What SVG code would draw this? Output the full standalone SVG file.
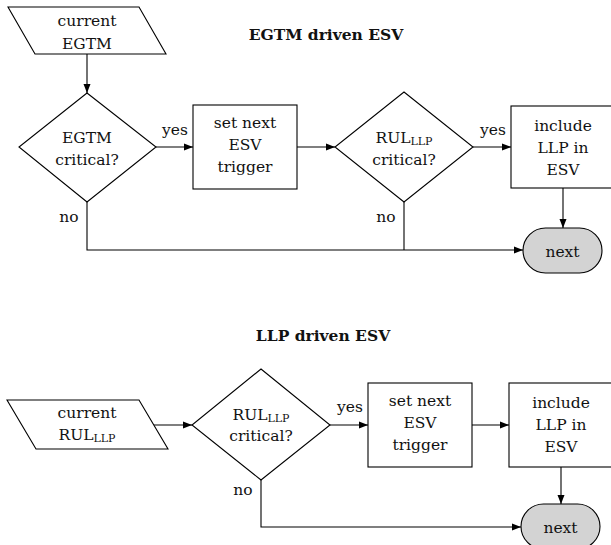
<svg xmlns="http://www.w3.org/2000/svg" width="611" height="545" viewBox="0 0 611 545">
<defs>
<marker id="ah" markerWidth="10" markerHeight="8" refX="9" refY="4" orient="auto" markerUnits="userSpaceOnUse">
<path d="M0,0.5 L9,4 L0,7.5 Z" fill="#000"/>
</marker>
<style>
.shape{fill:#fff;stroke:#000;stroke-width:1.1}
.term{fill:#d3d3d3;stroke:#000;stroke-width:1.1}
.conn{fill:none;stroke:#000;stroke-width:1.1}
.arr{marker-end:url(#ah)}
text{font-family:"DejaVu Serif","Liberation Serif",serif;font-size:15.5px;fill:#111;text-anchor:middle}
.title{font-weight:bold}
.sub{font-size:11px}
</style>
</defs>
<rect width="611" height="545" fill="#fff"/>

<text class="title" x="326" y="40">EGTM driven ESV</text>
<text class="title" x="323" y="341">LLP driven ESV</text>

<g id="connectors">
<line class="conn arr" x1="87" y1="54" x2="87" y2="93"/>
<line class="conn arr" x1="156" y1="147" x2="193" y2="147"/>
<line class="conn arr" x1="297" y1="147" x2="335" y2="147"/>
<line class="conn arr" x1="473" y1="147" x2="511" y2="147"/>
<line class="conn arr" x1="563" y1="188" x2="563" y2="228"/>
<polyline class="conn arr" points="87,202 87,250 523,250"/>
<line class="conn" x1="404" y1="202" x2="404" y2="250"/>

<line class="conn arr" x1="154" y1="425" x2="192" y2="425"/>
<line class="conn arr" x1="330" y1="425" x2="368" y2="425"/>
<line class="conn arr" x1="472" y1="425" x2="509" y2="425"/>
<line class="conn arr" x1="561" y1="467" x2="561" y2="504"/>
<polyline class="conn arr" points="261,480 261,527 521,527"/>

<text x="175" y="135">yes</text>
<text x="69" y="222">no</text>
<text x="493" y="135">yes</text>
<text x="386" y="222">no</text>
<text x="350" y="412">yes</text>
<text x="243" y="495">no</text>
</g>

<g id="current-egtm">
<polygon class="shape" points="8,7 139,7 166,54 35,54"/>
<text x="87" y="26">current</text>
<text x="87" y="49">EGTM</text>
</g>
<g id="egtm-critical">
<polygon class="shape" points="87,93 156,147 87,202 19,147"/>
<text x="87" y="143">EGTM</text>
<text x="87" y="165">critical?</text>
</g>
<g id="set-next-trigger-1">
<rect class="shape" x="193" y="105" width="104" height="84"/>
<text x="245" y="128">set next</text>
<text x="245" y="150">ESV</text>
<text x="245" y="172">trigger</text>
</g>
<g id="rul-critical-1">
<polygon class="shape" points="404,92 473,147 404,202 335,147"/>
<text x="404" y="143">RUL<tspan class="sub" dy="2">LLP</tspan></text>
<text x="404" y="165">critical?</text>
</g>
<g id="include-llp-1">
<rect class="shape" x="511" y="106" width="104" height="82"/>
<text x="563" y="131">include</text>
<text x="563" y="153">LLP in</text>
<text x="563" y="175">ESV</text>
</g>
<g id="next-1">
<rect class="term" x="523" y="228" width="79" height="45" rx="22.5" ry="22.5"/>
<text x="562.5" y="257">next</text>
</g>

<g id="current-rul">
<polygon class="shape" points="7,400 139,400 168,449 36,449"/>
<text x="87" y="418">current</text>
<text x="87" y="440">RUL<tspan class="sub" dy="2">LLP</tspan></text>
</g>
<g id="rul-critical-2">
<polygon class="shape" points="261,369 330,425 261,480 192,425"/>
<text x="261" y="420">RUL<tspan class="sub" dy="2">LLP</tspan></text>
<text x="261" y="441">critical?</text>
</g>
<g id="set-next-trigger-2">
<rect class="shape" x="368" y="383" width="104" height="84"/>
<text x="420" y="406">set next</text>
<text x="420" y="428">ESV</text>
<text x="420" y="450">trigger</text>
</g>
<g id="include-llp-2">
<rect class="shape" x="509" y="383" width="104" height="84"/>
<text x="561" y="408">include</text>
<text x="561" y="430">LLP in</text>
<text x="561" y="452">ESV</text>
</g>
<g id="next-2">
<rect class="term" x="521" y="504" width="79" height="45" rx="22.5" ry="22.5"/>
<text x="560.5" y="533">next</text>
</g>
</svg>
